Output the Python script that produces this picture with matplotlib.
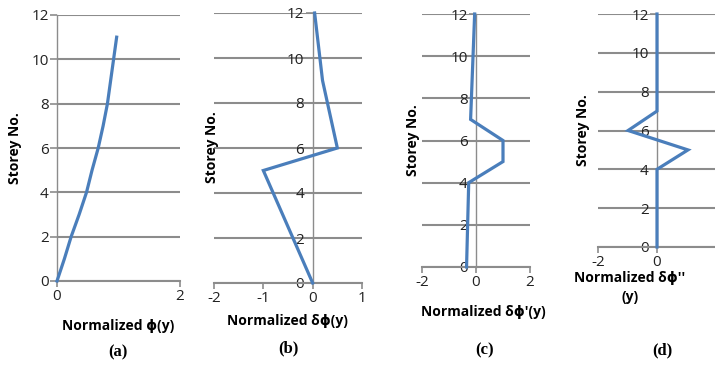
import matplotlib
matplotlib.use("Agg")
import matplotlib.pyplot as plt

# storey levels and normalized values for each panel
storey_a = [0, 1, 2, 3, 4, 5, 6, 7, 8, 9, 10, 11]
phi_a = [0, 0.12, 0.23, 0.36, 0.48, 0.57, 0.67, 0.75, 0.82, 0.87, 0.92, 0.97]

storey_b = [0, 5, 6, 9, 12]
dphi_b = [0, -1.0, 0.5, 0.2, 0.04]

storey_c = [0, 4, 5, 6, 7, 12]
dphi_c = [-0.35, -0.27, 1.0, 1.0, -0.2, -0.05]

storey_d = [0, 4, 5, 6, 7, 12]
dphi_d = [0, 0, 1.05, -0.98, 0, 0]

W, H = 715, 365
plt.rcParams['font.family'] = ['Open Sans', 'DejaVu Sans']
plt.rcParams['axes.unicode_minus'] = False
fig = plt.figure(figsize=(W / 100, H / 100), dpi=100)

line_col = '#4A7EBB'
grid_col = '#8C8C8C'

def px_axes(x0, x1, y0, y1):
    return fig.add_axes([x0 / W, 1 - y1 / H, (x1 - x0) / W, (y1 - y0) / H])

panels = [
    dict(box=(57, 180, 15, 281), xlim=(0, 2), xticks=[0, 2], x=phi_a, y=storey_a),
    dict(box=(214, 362, 13, 283), xlim=(-2, 1), xticks=[-2, -1, 0, 1], x=dphi_b, y=storey_b),
    dict(box=(422, 530, 14, 267), xlim=(-2, 2), xticks=[-2, 0, 2], x=dphi_c, y=storey_c),
    dict(box=(598, 716, 14, 247), xlim=(-2, 2), xticks=[-2, 0], x=dphi_d, y=storey_d),
]

for p in panels:
    ax = px_axes(*p['box'])
    ax.set_xlim(*p['xlim'])
    ax.set_ylim(0, 12)
    ax.set_xticks(p['xticks'])
    ax.set_yticks(range(0, 13, 2))
    ax.yaxis.grid(True, color=grid_col, lw=1.5)
    ax.set_axisbelow(True)
    for s in ['top', 'right']:
        ax.spines[s].set_visible(False)
    ax.spines['left'].set_position(('data', 0))
    ax.spines['left'].set_color(grid_col)
    ax.spines['bottom'].set_color(grid_col)
    ax.spines['left'].set_linewidth(1.0)
    ax.spines['bottom'].set_linewidth(1.5)
    ax.tick_params(axis='both', colors=grid_col, labelcolor='#222222',
                   labelsize=11, length=4, width=1.2, direction='out')
    ax.tick_params(axis='y', pad=1, length=5)
    ax.tick_params(axis='x', pad=2)
    ax.plot(p['x'], p['y'], color=line_col, lw=2.3, solid_joinstyle='miter',
            clip_on=False, zorder=3)
    ax.patch.set_alpha(0)

def ftxt(x, y, s, **kw):
    fig.text(x / W, 1 - y / H, s, ha='center', va='center', **kw)

ftxt(118, 326, 'Normalized \u03d5(y)', fontsize=10, fontweight='bold')
ftxt(287, 321, 'Normalized \u03b4\u03d5(y)', fontsize=10, fontweight='bold')
ftxt(483, 312, "Normalized \u03b4\u03d5'(y)", fontsize=10, fontweight='bold')
ftxt(630, 278, "Normalized \u03b4\u03d5''", fontsize=10, fontweight='bold')
ftxt(630, 297, "(y)", fontsize=10, fontweight='bold')

for x, y in [(15, 148), (212, 147), (413, 140), (583, 130)]:
    ftxt(x, y, 'Storey No.', fontsize=10, fontweight='bold', rotation=90)

for x, y, s in [(118, 352, '(a)'), (288, 348, '(b)'), (485, 350, '(c)'), (662, 350, '(d)')]:
    ftxt(x, y, s, fontsize=12, fontweight='bold', family='Liberation Serif')

fig.savefig('out.png', dpi=100)
